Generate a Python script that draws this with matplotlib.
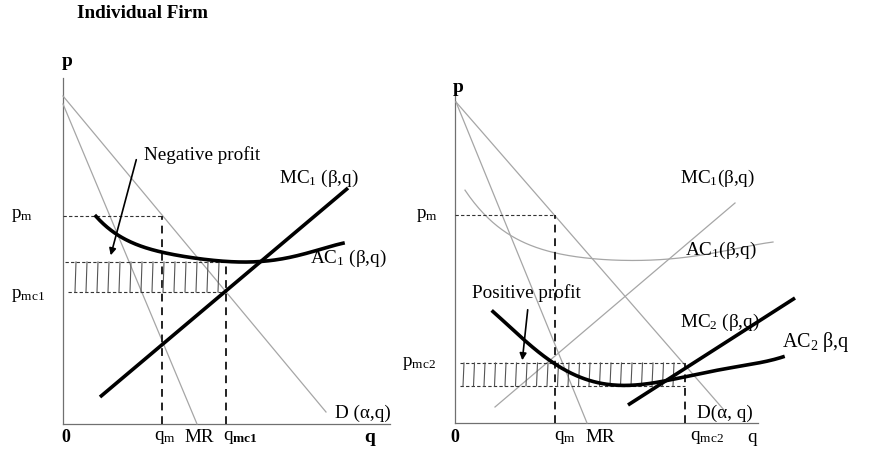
import numpy as np
import matplotlib.pyplot as plt

plt.rcParams['font.family'] = ['Liberation Serif', 'DejaVu Serif']
plt.rcParams['mathtext.fontset'] = 'custom'
plt.rcParams['mathtext.rm'] = 'Liberation Serif'
plt.rcParams['mathtext.it'] = 'Liberation Serif:italic'
plt.rcParams['mathtext.bf'] = 'Liberation Serif:bold'

# ---- left panel: firm with negative profit (q, p) ----
L_axis_q = [0, 327]
L_axis_p = [0, 346]
L_demand_q = [0, 263]
L_demand_p = [328, 12]
L_mr_q = [0, 134]
L_mr_p = [320, 0]
L_mc_q = [37, 285]
L_mc_p = [27, 236]
L_ac_q = [33, 47, 67, 99, 127, 163, 197, 227, 257, 280]
L_ac_p = [208, 194, 182, 173, 166, 162, 163, 167, 174, 181]
L_pm, L_qm = 208, 99
L_pmc, L_qmc = 132, 163
L_ac_min = 162
L_hatch_q = np.arange(12, 160, 11)

# ---- right panel: firm with positive profit (q, p) ----
R_axis_q = [0, 303]
R_axis_p = [0, 331]
R_demand_q = [1, 269]
R_demand_p = [321, 13]
R_mr_q = [1, 132]
R_mr_p = [321, 0]
R_mc1_q = [40, 280]
R_mc1_p = [16, 220]
R_ac1_q = [10, 25, 45, 75, 115, 165, 205, 245, 285, 318]
R_ac1_p = [233, 213, 195, 178, 167, 163, 163, 168, 175, 181]
R_mc2_q = [173, 340]
R_mc2_p = [18, 125]
R_ac2_q = [38, 65, 90, 110, 135, 165, 195, 225, 255, 295, 328]
R_ac2_p = [111, 88, 66, 51, 43, 39, 39, 45, 51, 59, 66]
R_pm, R_qm = 208, 100
R_pmc, R_qmc = 60, 230
R_ac2_min = 37
R_hatch_q = np.arange(8, 226, 10.5)


def smooth(q, p, n=200):
    qq = np.linspace(q[0], q[-1], n)
    coef = np.polyfit(q, p, 5)
    return qq, np.polyval(coef, qq)


fig = plt.figure(figsize=(8.93, 4.55), dpi=100)
axL = fig.add_axes([0, 0, 1, 1])
axR = fig.add_axes([0, 0, 1, 1])
axL.set_xlim(-63, 830)
axL.set_ylim(-31, 424)
axR.set_xlim(-455, 438)
axR.set_ylim(-32, 423)
for ax in (axL, axR):
    ax.axis('off')
    ax.patch.set_alpha(0)

gray = '#a6a6a6'
axc = '#707070'
fs = 13.8

# left panel
ax = axL
ax.plot([0, 0], L_axis_p, color=axc, lw=0.9)
ax.plot(L_axis_q, [0, 0], color=axc, lw=0.9)
ax.plot(L_demand_q, L_demand_p, color=gray, lw=0.9)
ax.plot(L_mr_q, L_mr_p, color=gray, lw=0.9)
ax.plot([0, L_qm], [L_pm, L_pm], color='#333333', lw=0.8, ls=(0, (3, 2)))
ax.plot([L_qm, L_qm], [0, L_pm], color='#222222', lw=1.4, ls=(0, (4, 3)))
ax.plot([L_qmc, L_qmc], [0, L_ac_min], color='#222222', lw=1.4, ls=(0, (4, 3)))
ax.plot([2, L_qmc], [L_ac_min, L_ac_min], color='#333333', lw=0.8, ls=(0, (3, 2)))
ax.plot([5, L_qmc], [L_pmc, L_pmc], color='#333333', lw=0.8, ls=(0, (3, 2)))
for q in L_hatch_q:
    ax.plot([q, q + 1], [L_pmc, L_ac_min], color='#555555', lw=0.8)
ax.plot(L_mc_q, L_mc_p, color='black', lw=2.6, solid_capstyle='butt')
qq, pp = smooth(L_ac_q, L_ac_p)
ax.plot(qq, pp, color='black', lw=2.6)
ax.annotate('', xy=(47, 166), xytext=(74, 267),
            arrowprops=dict(arrowstyle='-|>', color='black', lw=1.2, mutation_scale=10))
ax.text(81, 269, 'Negative profit', fontsize=fs, va='center')
ax.text(216, 246, r'MC$_1$ (β,q)', fontsize=fs, va='center')
ax.text(247, 166, r'AC$_1$ (β,q)', fontsize=fs, va='center')
ax.text(272, 11, 'D (α,q)', fontsize=fs, va='center')
ax.text(14, 411, 'Individual Firm', fontsize=13.8, fontweight='bold', va='center')
ax.text(4, 362, 'p', fontsize=14, fontweight='bold', ha='center', va='center')
ax.text(-41, L_pm, r'p$_\mathrm{m}$', fontsize=fs, ha='center', va='center')
ax.text(-35, 129, r'p$_\mathrm{mc1}$', fontsize=fs, ha='center', va='center')
ax.text(3, -13, '0', fontsize=13, fontweight='bold', ha='center', va='center')
ax.text(102, -13, r'q$_\mathrm{m}$', fontsize=fs, ha='center', va='center')
ax.text(136, -13, 'MR', fontsize=fs, ha='center', va='center')
ax.text(177, -13, r'q$_\mathbf{mc1}$', fontsize=fs, ha='center', va='center')
ax.text(307, -13, 'q', fontsize=14, fontweight='bold', ha='center', va='center')

# right panel
ax = axR
ax.plot([0, 0], R_axis_p, color=axc, lw=0.9)
ax.plot(R_axis_q, [0, 0], color=axc, lw=0.9)
ax.plot(R_demand_q, R_demand_p, color=gray, lw=0.9)
ax.plot(R_mr_q, R_mr_p, color=gray, lw=0.9)
ax.plot(R_mc1_q, R_mc1_p, color=gray, lw=0.9)
qq, pp = smooth(R_ac1_q, R_ac1_p)
ax.plot(qq, pp, color=gray, lw=0.9)
ax.plot([0, R_qm], [R_pm, R_pm], color='#333333', lw=0.8, ls=(0, (3, 2)))
ax.plot([R_qm, R_qm], [0, R_pm], color='#222222', lw=1.4, ls=(0, (4, 3)))
ax.plot([R_qmc, R_qmc], [0, R_pmc], color='#222222', lw=1.4, ls=(0, (4, 3)))
ax.plot([5, R_qmc], [R_pmc, R_pmc], color='#333333', lw=0.8, ls=(0, (3, 2)))
ax.plot([5, R_qmc], [R_ac2_min, R_ac2_min], color='#333333', lw=0.8, ls=(0, (3, 2)))
for q in R_hatch_q:
    ax.plot([q, q + 1], [R_ac2_min, R_pmc], color='#555555', lw=0.8)
ax.plot(R_mc2_q, R_mc2_p, color='black', lw=2.6, solid_capstyle='butt')
qq, pp = smooth(R_ac2_q, R_ac2_p)
ax.plot(qq, pp, color='black', lw=2.6)
ax.annotate('', xy=(67, 60), xytext=(73, 116),
            arrowprops=dict(arrowstyle='-|>', color='black', lw=1.2, mutation_scale=10))
ax.text(17, 130, 'Positive profit', fontsize=fs, va='center')
ax.text(225, 245, r'MC$_1$(β,q)', fontsize=fs, va='center')
ax.text(230, 173, r'AC$_1$(β,q)', fontsize=fs, va='center')
ax.text(225, 101, r'MC$_2$ (β,q)', fontsize=fs, va='center')
ax.text(327, 81, r'AC$_2$ β,q', fontsize=14.5, va='center')
ax.text(242, 10, 'D(α, q)', fontsize=fs, va='center')
ax.text(3, 336, 'p', fontsize=14, fontweight='bold', ha='center', va='center')
ax.text(-28, R_pm, r'p$_\mathrm{m}$', fontsize=fs, ha='center', va='center')
ax.text(-36, 59, r'p$_\mathrm{mc2}$', fontsize=fs, ha='center', va='center')
ax.text(0, -15, '0', fontsize=13, fontweight='bold', ha='center', va='center')
ax.text(110, -15, r'q$_\mathrm{m}$', fontsize=fs, ha='center', va='center')
ax.text(145, -15, 'MR', fontsize=fs, ha='center', va='center')
ax.text(252, -15, r'q$_\mathrm{mc2}$', fontsize=fs, ha='center', va='center')
ax.text(297, -15, 'q', fontsize=fs, ha='center', va='center')

fig.savefig('out.png', dpi=100)
